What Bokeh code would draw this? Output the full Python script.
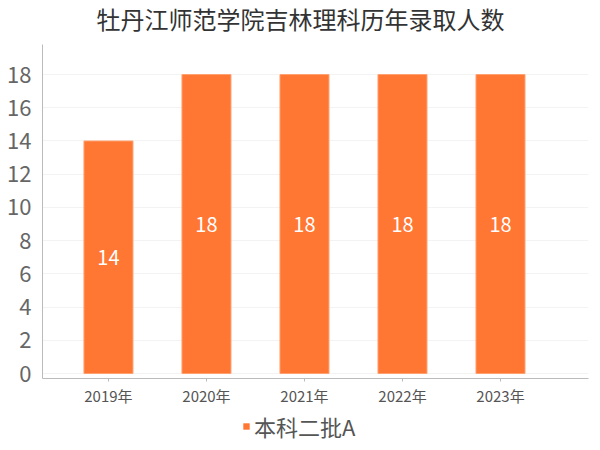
from bokeh.plotting import figure
from bokeh.layouts import column
from bokeh.models import Range1d, FixedTicker, ColumnDataSource, Legend, LegendItem, Label
from bokeh.core.properties import value
from bokeh.embed import file_html
from bokeh.resources import INLINE

title = "牡丹江师范学院吉林理科历年录取人数"
years = ["2019年", "2020年", "2021年", "2022年", "2023年"]
counts = [14, 18, 18, 18, 18]
series_name = "本科二批A"
y_ticks = [0, 2, 4, 6, 8, 10, 12, 14, 16, 18]

FONT = "Noto Sans CJK SC"
ORANGE = "#FF7733"
W = 592

idx = list(range(len(years)))
src = ColumnDataSource(dict(
    x=idx, top=counts, mid=[c / 2 for c in counts], lab=[str(c) for c in counts]
))


def strip(h):
    f = figure(width=W, height=h, output_backend="svg", toolbar_location=None,
               x_range=Range1d(0, 1), y_range=Range1d(0, 1),
               x_axis_type=None, y_axis_type=None,
               min_border_left=42, min_border_right=4, min_border_top=0, min_border_bottom=0)
    f.outline_line_color = None
    f.xgrid.visible = False
    f.ygrid.visible = False
    return f


# title strip
tf = strip(36)
tf.add_layout(Label(x=258, y=18, x_units="screen", y_units="screen", text=title,
                    text_align="center", text_baseline="middle",
                    text_font=FONT, text_font_size="24px", text_color="#333333"))

# main chart
p = figure(width=W, height=373, output_backend="svg", toolbar_location=None,
           x_range=Range1d(-0.673, 4.898), y_range=Range1d(-0.3, 19.81),
           min_border_left=42, min_border_right=4, min_border_top=8, min_border_bottom=31)

p.vbar(x="x", top="top", bottom=0, width=0.5, source=src,
       fill_color=ORANGE, line_color="#FFA070", line_width=1)
p.text(x="x", y="mid", text="lab", source=src, text_align="center",
       text_baseline="middle", text_color="white", text_font_size="20px",
       text_font=value(FONT))

p.outline_line_color = None
p.xgrid.grid_line_color = None
p.ygrid.grid_line_color = "#f3f3f3"
p.ygrid.ticker = FixedTicker(ticks=y_ticks)

p.yaxis.ticker = FixedTicker(ticks=y_ticks)
p.yaxis.axis_line_color = "#bbbbbb"
p.yaxis.major_tick_line_color = None
p.yaxis.minor_tick_line_color = None
p.yaxis.major_label_text_font = FONT
p.yaxis.major_label_text_font_size = "22px"
p.yaxis.major_label_text_color = "#666666"
p.yaxis.major_label_standoff = 5

p.xaxis.ticker = FixedTicker(ticks=idx)
p.xaxis.major_label_overrides = {i: y for i, y in zip(idx, years)}
p.xaxis.axis_line_color = "#bbbbbb"
p.xaxis.major_tick_line_color = "#bbbbbb"
p.xaxis.major_tick_in = 0
p.xaxis.major_tick_out = 3
p.xaxis.minor_tick_line_color = None
p.xaxis.major_label_text_font = FONT
p.xaxis.major_label_text_font_size = "15px"
p.xaxis.major_label_text_color = "#555555"
p.xaxis.major_label_standoff = 3

# legend strip
lg = strip(33)
dummy = lg.vbar(x=idx[:1], top=0, bottom=0, width=0.5, fill_color=ORANGE, line_color=None)
legend = Legend(items=[LegendItem(label=series_name, renderers=[dummy])],
                orientation="horizontal", location=(200, 0),
                border_line_color=None, background_fill_alpha=0,
                glyph_width=8, glyph_height=8, label_standoff=4,
                label_text_font=FONT, label_text_font_size="22px",
                label_text_line_height=0.8, label_height=8,
                label_text_color="#555555", padding=0, margin=0)
lg.add_layout(legend, "center")

layout = column(tf, p, lg, spacing=0)
open("out.html", "w").write(file_html(layout, INLINE))
